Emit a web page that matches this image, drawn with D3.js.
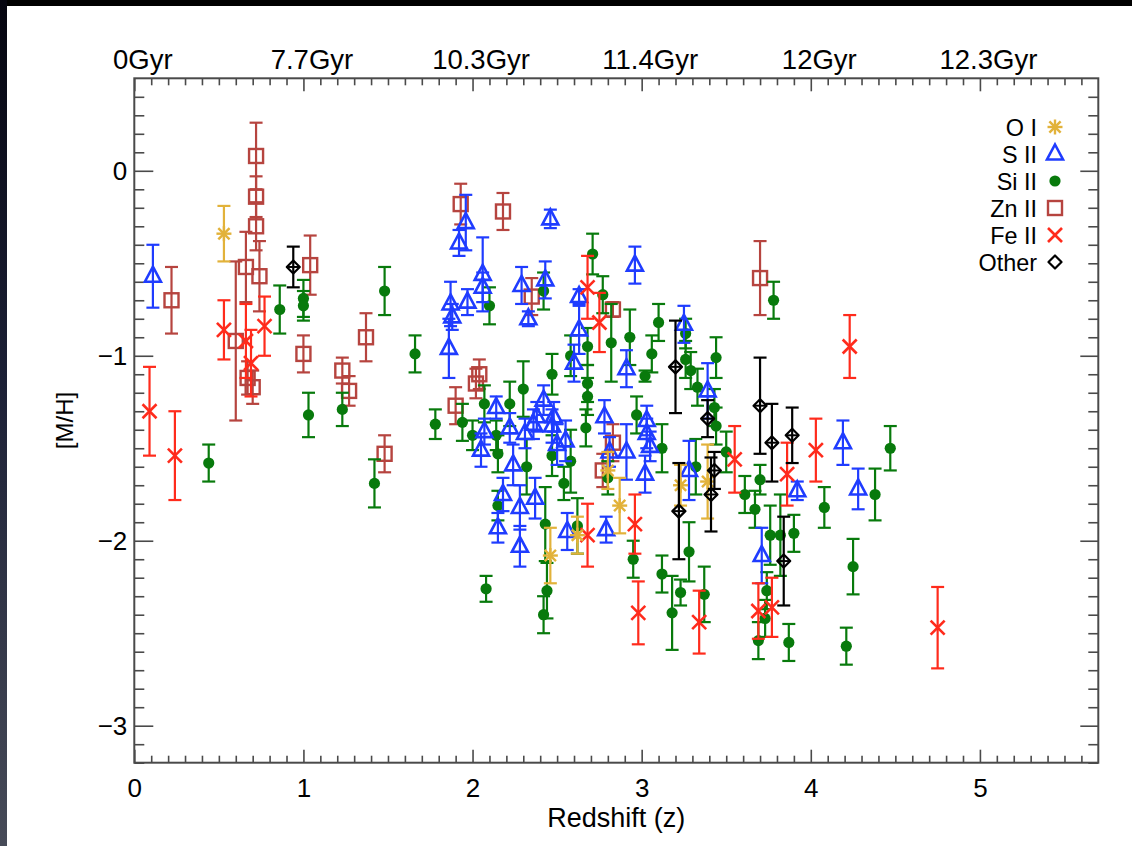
<!DOCTYPE html>
<html>
<head>
<meta charset="utf-8">
<script src="https://cdn.jsdelivr.net/npm/d3@7"></script>
<style>
  html, body { margin: 0; padding: 0; background: #000; }
  svg { display: block; }
  text { font-family: "Liberation Sans", Arial, Helvetica, sans-serif; fill: #000; }
</style>
</head>
<body>
<svg id="chart" width="1132" height="846"></svg>
<script>
// ---- data: [redshift z, [M/H], 1-sigma error] ----
const oI = [
  [0.53,-0.34,0.15],[2.46,-2.08,0.15],[2.62,-1.97,0.10],[2.80,-1.62,0.10],
  [2.87,-1.81,0.15],[3.23,-1.70,0.11],[3.39,-1.68,0.20]
];
const sII = [
  [0.11,-0.57,0.17],[1.96,-0.28,0.15],[1.92,-0.39,0.07],[2.46,-0.26,0.05],
  [2.06,-0.56,0.20],[2.06,-0.63,0.08],[1.87,-0.72,0.12],[1.88,-0.79,0.07],
  [1.97,-0.71,0.07],[1.86,-0.96,0.16],[2.29,-0.62,0.10],[2.33,-0.80,0.04],
  [2.43,-0.59,0.10],[2.63,-0.68,0.04],[2.63,-0.86,0.13],[2.60,-1.04,0.10],
  [2.07,-1.41,0.07],[2.05,-1.51,0.09],[2.14,-1.28,0.06],[2.22,-1.39,0.08],
  [2.24,-1.59,0.11],[2.31,-1.42,0.08],[2.36,-1.37,0.08],[2.47,-1.38,0.09],
  [2.50,-1.48,0.11],[2.55,-1.46,0.11],[2.38,-1.33,0.08],[2.42,-1.24,0.08],
  [2.48,-1.33,0.08],[2.18,-1.75,0.09],[2.28,-1.82,0.12],[2.37,-1.77,0.11],
  [2.15,-1.93,0.08],[2.28,-2.03,0.11],[2.56,-1.95,0.10],[2.81,-1.52,0.08],
  [2.91,-1.52,0.15],[3.03,-1.42,0.08],[3.05,-1.49,0.08],[3.02,-1.64,0.10],
  [2.79,-1.94,0.07],[2.96,-0.51,0.10],[2.91,-1.07,0.10],[3.25,-0.83,0.10],
  [3.39,-1.19,0.15],[2.78,-1.33,0.09],[3.03,-1.35,0.08],[3.28,-1.62,0.16],
  [4.19,-1.47,0.12],[3.92,-1.73,0.05],[4.28,-1.72,0.11],[3.71,-2.08,0.15]
];
const siII = [
  [0.44,-1.58,0.10],[0.86,-0.75,0.13],[1.00,-0.69,0.10],[1.00,-0.73,0.08],
  [1.03,-1.32,0.12],[1.23,-1.29,0.09],[1.48,-0.65,0.13],[1.42,-1.69,0.13],
  [1.66,-0.99,0.10],[1.78,-1.37,0.08],[1.94,-1.36,0.10],[2.00,-1.43,0.08],
  [2.10,-0.73,0.10],[2.07,-1.26,0.10],[2.14,-1.43,0.08],[2.15,-1.53,0.10],
  [2.22,-1.26,0.12],[2.30,-1.18,0.15],[2.32,-1.60,0.15],[2.42,-0.65,0.10],
  [2.47,-1.10,0.11],[2.47,-1.54,0.11],[2.58,-1.57,0.17],[2.54,-1.69,0.09],
  [2.67,-1.39,0.10],[2.15,-1.81,0.08],[2.43,-1.91,0.20],[2.44,-2.27,0.15],
  [2.42,-2.40,0.10],[2.08,-2.26,0.07],[2.62,-1.92,0.15],[2.71,-0.45,0.11],
  [2.77,-0.67,0.10],[2.82,-0.93,0.21],[2.93,-0.90,0.15],[3.10,-0.82,0.10],
  [3.06,-0.99,0.10],[3.02,-1.11,0.03],[3.26,-0.88,0.08],[3.26,-1.02,0.10],
  [3.29,-1.08,0.10],[3.33,-1.17,0.10],[3.44,-1.01,0.11],[3.43,-1.28,0.10],
  [2.68,-0.95,0.10],[2.68,-1.15,0.10],[2.68,-1.22,0.10],[2.97,-1.32,0.10],
  [2.58,-1.00,0.11],[3.12,-1.50,0.13],[2.95,-2.10,0.10],[3.32,-1.60,0.15],
  [3.28,-2.06,0.16],[3.12,-2.18,0.10],[3.18,-2.39,0.20],[3.23,-2.28,0.07],
  [3.37,-2.29,0.15],[3.44,-1.38,0.10],[3.50,-1.52,0.11],[3.78,-0.70,0.10],
  [4.47,-1.50,0.12],[3.70,-1.67,0.08],[3.61,-1.75,0.10],[3.67,-1.83,0.10],
  [4.08,-1.82,0.11],[4.38,-1.75,0.14],[3.76,-1.97,0.16],[3.82,-1.97,0.22],
  [3.90,-1.96,0.10],[4.25,-2.14,0.15],[3.74,-2.27,0.10],[3.73,-2.42,0.10],
  [3.69,-2.54,0.10],[3.87,-2.55,0.10],[4.21,-2.57,0.10],[2.80,-1.66,0.09]
];
const znII = [
  [0.22,-0.70,0.18],[0.60,-0.92,0.43],[0.66,-0.52,0.19],[0.67,-1.12,0.09],
  [0.70,-1.17,0.09],[0.72,0.08,0.18],[0.72,-0.14,0.11],[0.72,-0.30,0.13],
  [0.74,-0.57,0.19],[1.04,-0.51,0.16],[1.00,-0.99,0.10],[1.23,-1.08,0.07],
  [1.27,-1.19,0.08],[1.37,-0.90,0.13],[1.48,-1.53,0.10],[1.93,-0.18,0.11],
  [2.18,-0.22,0.10],[1.90,-1.27,0.10],[2.02,-1.15,0.08],[2.04,-1.10,0.08],
  [2.35,-0.68,0.10],[2.83,-0.75,0.04],[2.83,-1.47,0.10],[2.77,-1.62,0.09],
  [3.70,-0.58,0.20]
];
const feII = [
  [0.09,-1.30,0.24],[0.24,-1.54,0.24],[0.53,-0.86,0.16],[0.66,-0.92,0.20],
  [0.69,-1.04,0.18],[0.77,-0.84,0.16],[2.68,-0.63,0.17],[2.75,-0.82,0.16],
  [2.68,-1.97,0.17],[2.96,-1.91,0.16],[2.98,-2.39,0.17],[3.34,-2.44,0.17],
  [3.55,-1.56,0.18],[4.23,-0.95,0.17],[4.03,-1.51,0.17],[3.86,-1.64,0.17],
  [3.69,-2.38,0.15],[3.77,-2.36,0.16],[4.75,-2.47,0.22]
];
const other = [
  [0.94,-0.52,0.11],[3.20,-1.06,0.25],[3.22,-1.84,0.26],[3.39,-1.34,0.10],
  [3.43,-1.62,0.10],[3.41,-1.75,0.20],[3.70,-1.27,0.26],[3.77,-1.47,0.21],
  [3.89,-1.43,0.15],[3.84,-2.11,0.24]
];

const legendNames = ["O I", "S II", "Si II", "Zn II", "Fe II", "Other"];
const xTickValues = [0, 1, 2, 3, 4, 5];
const yTickValues = [-3, -2, -1, 0];
const lookbackLabels = ["0Gyr", "7.7Gyr", "10.3Gyr", "11.4Gyr", "12Gyr", "12.3Gyr"];

// ---- layout ----
const W = 1132, H = 846;
const plot = { left: 134.3, right: 1098.3, top: 78.3, bottom: 762.7 };
const svg = d3.select("#chart");

// page backdrop: dark band on top, slate strip on the left, white sheet
const defs = svg.append("defs");
const grad = defs.append("linearGradient").attr("id", "edge").attr("x1", 0).attr("y1", 0).attr("x2", 0).attr("y2", 1);
grad.append("stop").attr("offset", "0%").attr("stop-color", "#05050f");
grad.append("stop").attr("offset", "45%").attr("stop-color", "#1c2036");
grad.append("stop").attr("offset", "100%").attr("stop-color", "#474b58");
svg.append("rect").attr("width", W).attr("height", H).attr("fill", "#000");
svg.append("rect").attr("x", 0).attr("y", 0).attr("width", 7).attr("height", H).attr("fill", "url(#edge)");
svg.append("rect").attr("x", 7).attr("y", 6).attr("width", W - 7).attr("height", H - 6).attr("fill", "#fff");

const x = d3.scaleLinear().domain([0, 5.7]).range([plot.left, plot.right]);
const y = d3.scaleLinear().domain([-3.2, 0.5]).range([plot.bottom, plot.top]);

const fontSize = 26;
const axisColor = "#4a4a4a";
const minorX = d3.range(0, 57).map(i => i / 10).filter(v => Math.abs(v - Math.round(v)) > 1e-6);
const minorY = d3.range(-32, 5).map(i => i / 10).filter(v => Math.abs(v - Math.round(v)) > 1e-6);

function styleAxis(g, size) {
  g.select(".domain").remove();
  g.selectAll(".tick line").attr("stroke", axisColor).attr("stroke-width", 1.6);
  g.selectAll(".tick text").attr("font-size", size || fontSize)
    .attr("font-family", "Liberation Sans, Arial, sans-serif").attr("fill", "#000");
}

// bottom axis
svg.append("g").attr("transform", `translate(0,${plot.bottom})`)
  .call(d3.axisBottom(x).tickValues(minorX).tickSize(-7).tickFormat(""))
  .call(styleAxis);
svg.append("g").attr("transform", `translate(0,${plot.bottom})`)
  .call(d3.axisBottom(x).tickValues(xTickValues).tickSize(-13).tickPadding(16).tickFormat(d3.format("d")))
  .call(styleAxis);

// top axis (lookback time)
svg.append("g").attr("transform", `translate(0,${plot.top})`)
  .call(d3.axisTop(x).tickValues(minorX).tickSize(-7).tickFormat(""))
  .call(styleAxis);
const topAxis = svg.append("g").attr("transform", `translate(0,${plot.top})`)
  .call(d3.axisTop(x).tickValues(xTickValues).tickSize(-13).tickPadding(9).tickFormat((d, i) => lookbackLabels[i]))
  .call(g => styleAxis(g, 27.5));
topAxis.selectAll(".tick text").attr("dx", 8);

// left axis
svg.append("g").attr("transform", `translate(${plot.left},0)`)
  .call(d3.axisLeft(y).tickValues(minorY).tickSize(-10).tickFormat(""))
  .call(styleAxis);
svg.append("g").attr("transform", `translate(${plot.left},0)`)
  .call(d3.axisLeft(y).tickValues(yTickValues).tickSize(-19).tickPadding(7).tickFormat(d => d === 0 ? "0" : "\u2212" + Math.abs(d)))
  .call(styleAxis);

// right axis
svg.append("g").attr("transform", `translate(${plot.right},0)`)
  .call(d3.axisRight(y).tickValues(minorY).tickSize(-10).tickFormat(""))
  .call(styleAxis);
svg.append("g").attr("transform", `translate(${plot.right},0)`)
  .call(d3.axisRight(y).tickValues(yTickValues).tickSize(-18).tickFormat(""))
  .call(styleAxis);

// frame
svg.append("rect")
  .attr("x", plot.left).attr("y", plot.top)
  .attr("width", plot.right - plot.left).attr("height", plot.bottom - plot.top)
  .attr("fill", "none").attr("stroke", axisColor).attr("stroke-width", 2);

// axis titles
svg.append("text").attr("x", (plot.left + plot.right) / 2).attr("y", 827)
  .attr("text-anchor", "middle").attr("font-size", 27).text("Redshift (z)");
svg.append("text").attr("transform", `translate(73,${(plot.top + plot.bottom) / 2}) rotate(-90)`)
  .attr("text-anchor", "middle").attr("font-size", 24).text("[M/H]");

// ---- markers ----
const colors = {
  "O I": "#e2b23a",
  "S II": "#1f3cff",
  "Si II": "#087a0c",
  "Zn II": "#b6443f",
  "Fe II": "#ff2b1c",
  "Other": "#000000"
};

const symbolDraw = {
  "O I": (g, c) => {
    const r = 7.5;
    [[0, -r, 0, r], [-r, 0, r, 0], [-r * 0.75, -r * 0.75, r * 0.75, r * 0.75], [-r * 0.75, r * 0.75, r * 0.75, -r * 0.75]]
      .forEach(l => g.append("line").attr("x1", l[0]).attr("y1", l[1]).attr("x2", l[2]).attr("y2", l[3])
        .attr("stroke", c).attr("stroke-width", 2.4));
  },
  "S II": (g, c) => g.append("path").attr("d", "M0,-9.5L8,5.5L-8,5.5Z")
    .attr("fill", "none").attr("stroke", c).attr("stroke-width", 2.6).attr("stroke-linejoin", "miter"),
  "Si II": (g, c) => g.append("circle").attr("r", 5.6).attr("fill", c),
  "Zn II": (g, c) => g.append("rect").attr("x", -7).attr("y", -7).attr("width", 14).attr("height", 14)
    .attr("fill", "none").attr("stroke", c).attr("stroke-width", 2.4),
  "Fe II": (g, c) => {
    const r = 7;
    [[-r, -r, r, r], [-r, r, r, -r]].forEach(l => g.append("line")
      .attr("x1", l[0]).attr("y1", l[1]).attr("x2", l[2]).attr("y2", l[3])
      .attr("stroke", c).attr("stroke-width", 2.6));
  },
  "Other": (g, c) => {
    g.append("path").attr("d", "M0,-6.5L6.5,0L0,6.5L-6.5,0Z")
      .attr("fill", "none").attr("stroke", c).attr("stroke-width", 2.2).attr("stroke-linejoin", "round");
  }
};

function drawSeries(name, rows) {
  const c = colors[name];
  const g = svg.append("g").attr("class", "series");
  const pts = g.selectAll("g.pt").data(rows).join("g").attr("class", "pt");
  // error bars with caps
  pts.append("line")
    .attr("x1", d => x(d[0])).attr("x2", d => x(d[0]))
    .attr("y1", d => y(d[1] + d[2])).attr("y2", d => y(d[1] - d[2]))
    .attr("stroke", c).attr("stroke-width", 2.2);
  [1, -1].forEach(s => pts.append("line")
    .attr("x1", d => x(d[0]) - 6.5).attr("x2", d => x(d[0]) + 6.5)
    .attr("y1", d => y(d[1] + s * d[2])).attr("y2", d => y(d[1] + s * d[2]))
    .attr("stroke", c).attr("stroke-width", 2.2));
  pts.each(function (d) {
    const m = d3.select(this).append("g").attr("transform", `translate(${x(d[0])},${y(d[1])})`);
    symbolDraw[name](m, c);
    if (name === "Other") {
      m.append("line").attr("x1", -6).attr("x2", 6).attr("stroke", c).attr("stroke-width", 2);
    }
  });
}

drawSeries("Zn II", znII);
drawSeries("Si II", siII);
drawSeries("S II", sII);
drawSeries("Fe II", feII);
drawSeries("O I", oI);
drawSeries("Other", other);

// ---- legend ----
const legend = svg.append("g");
const legendTop = 127, legendStep = 27;
legendNames.forEach((name, i) => {
  const cy = legendTop + i * legendStep;
  legend.append("text").attr("x", 1037).attr("y", cy + 8.5)
    .attr("text-anchor", "end").attr("font-size", 23.4).text(name);
  const m = legend.append("g").attr("transform", `translate(1055,${cy})`);
  symbolDraw[name](m, colors[name]);
});
</script>
</body>
</html>
